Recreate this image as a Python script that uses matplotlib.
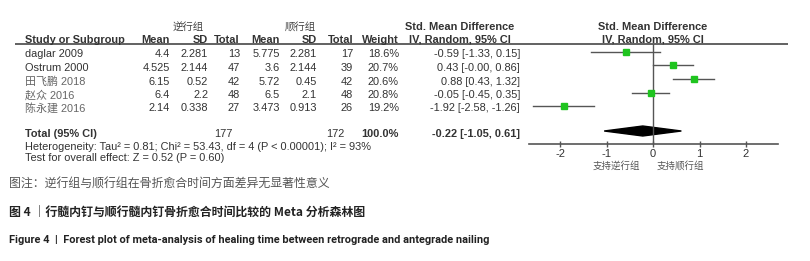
import matplotlib
matplotlib.use("Agg")
import matplotlib.pyplot as plt
from matplotlib.patches import Polygon

plt.rcParams['font.family'] = ['Liberation Sans', 'Noto Sans CJK SC', 'DejaVu Sans']

# ---- data ----
studies = ["daglar 2009", "Ostrum 2000", "田飞鹏 2018", "赵众 2016", "陈永建 2016"]
retro_mean = ["4.4", "4.525", "6.15", "6.4", "2.14"]
retro_sd = ["2.281", "2.144", "0.52", "2.2", "0.338"]
retro_n = [13, 47, 42, 48, 27]
ante_mean = ["5.775", "3.6", "5.72", "6.5", "3.473"]
ante_sd = ["2.281", "2.144", "0.45", "2.1", "0.913"]
ante_n = [17, 39, 42, 48, 26]
weights = [18.6, 20.7, 20.6, 20.8, 19.2]
smd = [-0.59, 0.43, 0.88, -0.05, -1.92]
ci_low = [-1.33, -0.00, 0.43, -0.45, -2.58]
ci_high = [0.15, 0.86, 1.32, 0.35, -1.26]
ci_text = ["-0.59 [-1.33, 0.15]", "0.43 [-0.00, 0.86]", "0.88 [0.43, 1.32]",
           "-0.05 [-0.45, 0.35]", "-1.92 [-2.58, -1.26]"]
total_retro = 177
total_ante = 172
pooled = -0.22
pooled_low = -1.05
pooled_high = 0.61
xticks = [-2, -1, 0, 1, 2]

W, H = 810, 261
fig = plt.figure(figsize=(W / 100, H / 100), dpi=100)
fig.patch.set_facecolor('white')

# overlay axes in pixel coordinates for text
tax = fig.add_axes([0, 0, 1, 1])
tax.set_xlim(0, W)
tax.set_ylim(H, 0)
tax.axis('off')

TXT = '#333333'
fs = 7.9

def t(x, y, s, ha='right', bold=False, color=TXT, size=fs, **kw):
    tax.text(x, y, s, ha=ha, va='center', fontsize=size,
             fontweight='bold' if bold else 'normal', color=color, **kw)

# group headers
t(188, 27, "逆行组", ha='center', size=7.5, color='#444444')
t(300, 27, "顺行组", ha='center', size=7.5, color='#444444')
t(460, 27, "Std. Mean Difference", ha='center', bold=True)
t(653, 27, "Std. Mean Difference", ha='center', bold=True)

hy = 40
t(25, hy, "Study or Subgroup", ha='left', bold=True)
t(170, hy, "Mean", bold=True)
t(208, hy, "SD", bold=True)
t(240, hy, "Total", bold=True)
t(280, hy, "Mean", bold=True)
t(317, hy, "SD", bold=True)
t(353, hy, "Total", bold=True)
t(399, hy, "Weight", bold=True)
t(460, hy, "IV, Random, 95% CI", ha='center', bold=True)
t(653, hy, "IV, Random, 95% CI", ha='center', bold=True)

tax.plot([15, 788], [44, 44], color='#555555', lw=1.3, solid_capstyle='butt')

row_y = [54, 68, 82, 95, 108]
for i, name in enumerate(studies):
    y = row_y[i]
    t(25, y, name, ha='left', color=TXT if i < 2 else '#666666')
    t(170, y, retro_mean[i])
    t(208, y, retro_sd[i])
    t(240, y, str(retro_n[i]))
    t(280, y, ante_mean[i])
    t(317, y, ante_sd[i])
    t(353, y, str(ante_n[i]))
    t(399, y, f"{weights[i]:.1f}%")
    t(520, y, ci_text[i])

ty = 134
t(25, ty, "Total (95% CI)", ha='left', bold=True)
t(233, ty, str(total_retro))
t(344, ty, str(total_ante))
t(399, ty, "100.0%", bold=True)
t(520, ty, f"{pooled:.2f} [{pooled_low:.2f}, {pooled_high:.2f}]", bold=True)
t(25, 147, "Heterogeneity: Tau² = 0.81; Chi² = 53.43, df = 4 (P < 0.00001); I² = 93%", ha='left')
t(25, 158, "Test for overall effect: Z = 0.52 (P = 0.60)", ha='left')

# forest axes
x0, x1 = 529, 778
top, bot = 44, 144
fax = fig.add_axes([x0 / W, (H - bot) / H, (x1 - x0) / W, (bot - top) / H])
fax.patch.set_alpha(0)
px_per = 46.5
fax.set_xlim((x0 - 653) / px_per, (x1 - 653) / px_per)
fax.set_ylim(bot, top)
for s in ['top', 'right', 'left']:
    fax.spines[s].set_visible(False)
fax.spines['bottom'].set_color('#555555')
fax.spines['bottom'].set_linewidth(1.2)
fax.set_yticks([])
fax.set_xticks(xticks)
fax.set_xticklabels([str(v) for v in xticks])
fax.tick_params(axis='x', direction='inout', length=5, width=1, color='#555555',
                labelsize=8, labelcolor=TXT, pad=1)
fax.axvline(0, color='#555555', lw=1)

sq_y = [52, 65, 79, 93, 106]
for i in range(len(smd)):
    fax.plot([ci_low[i], ci_high[i]], [sq_y[i], sq_y[i]], color='#555555', lw=1)
    fax.plot(smd[i], sq_y[i], marker='s', ms=4.3, color='#1fc41f', mec='#1fc41f')

dy = 131
fax.add_patch(Polygon([[pooled_low, dy], [pooled, dy - 5], [pooled_high, dy], [pooled, dy + 5]],
                      closed=True, color='black'))

t(640, 166, "支持逆行组", ha='right', color='#555555', size=6.8)
t(657, 166, "支持顺行组", ha='left', color='#555555', size=6.8)

# captions
cap_font = ['Noto Sans CJK SC', 'DejaVu Sans']
tax.text(9, 184, "图注：逆行组与顺行组在骨折愈合时间方面差异无显著性意义", ha='left', va='center',
         fontsize=8.6, color='#555555', family=cap_font)
tax.text(9, 213, "图 4 ｜行髓内钉与顺行髓内钉骨折愈合时间比较的 Meta 分析森林图", ha='left', va='center',
         fontsize=8.6, color='#222222', family=cap_font, fontweight='bold')
tax.text(9, 240, "Figure 4  |  Forest plot of meta-analysis of healing time between retrograde and antegrade nailing",
         ha='left', va='center', fontsize=7.9, color='#222222',
         family=['Roboto', 'DejaVu Sans'], fontweight='bold')

fig.savefig("out.png", dpi=100, facecolor='white')
